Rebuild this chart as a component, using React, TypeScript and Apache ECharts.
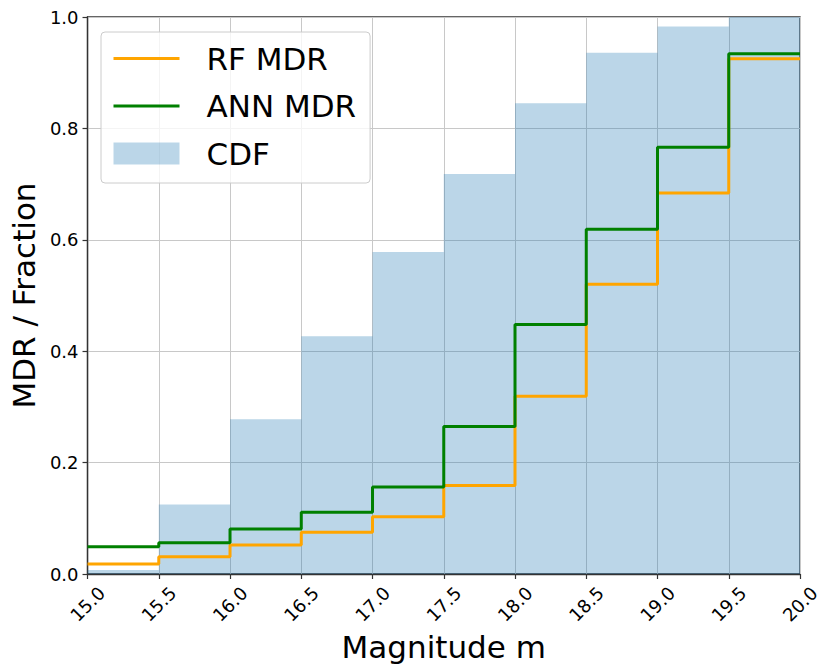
import React, { useEffect, useRef } from "react";
import * as echarts from "echarts";

const binEdges = [15.0, 15.5, 16.0, 16.5, 17.0, 17.5, 18.0, 18.5, 19.0, 19.5, 20.0];
const cdfValues = [0.007, 0.125, 0.278, 0.427, 0.578, 0.718, 0.845, 0.936, 0.983, 1.0];
const rfMdr = [0.018, 0.031, 0.052, 0.075, 0.103, 0.159, 0.319, 0.52, 0.684, 0.925];
const annMdr = [0.049, 0.056, 0.081, 0.111, 0.156, 0.265, 0.448, 0.619, 0.766, 0.934];
const yTicks = [0, 0.2, 0.4, 0.6, 0.8, 1.0];

const FONT = "DejaVu Sans";
const CDF_COLOR = "rgba(31,119,180,0.3)";

function stepData(vals: number[]) {
  return binEdges.map((e, i) => [e, vals[Math.min(i, vals.length - 1)]]);
}

export default function App() {
  const ref = useRef<HTMLDivElement>(null);
  useEffect(() => {
    if (!ref.current) return;
    const chart = echarts.init(ref.current, undefined, { renderer: "svg" });
    chart.setOption({
      animation: false,
      textStyle: { fontFamily: FONT },
      grid: {
        left: 84,
        right: 31,
        top: 17,
        bottom: 98,
        show: true,
        borderColor: "#333",
        borderWidth: 1.3,
        backgroundColor: "transparent",
      },
      legend: {
        orient: "vertical",
        left: 101,
        top: 32,
        padding: [11, 14, 14, 11],
        itemWidth: 66,
        itemHeight: 22,
        itemGap: 16.5,
        backgroundColor: "rgba(255,255,255,0.8)",
        borderColor: "#cccccc",
        borderWidth: 1,
        borderRadius: 4,
        textStyle: { fontFamily: FONT, fontSize: 31, color: "#000", padding: [0, 0, 0, 22] },
        lineStyle: { width: 3 },
        data: [
          { name: "RF MDR", itemStyle: { opacity: 0 } },
          { name: "ANN MDR", itemStyle: { opacity: 0 } },
          { name: "CDF", icon: "rect", itemStyle: { color: CDF_COLOR, opacity: 1 } },
        ],
      },
      xAxis: {
        type: "value",
        min: 15,
        max: 20,
        interval: 0.5,
        name: "Magnitude m",
        nameLocation: "middle",
        nameGap: 54,
        nameTextStyle: { fontFamily: FONT, fontSize: 31, color: "#000" },
        axisLine: { show: true, onZero: false, lineStyle: { color: "#333", width: 1.3 } },
        axisTick: { show: true, length: 5, lineStyle: { color: "#333", width: 1.2 } },
        axisLabel: {
          rotate: 45,
          align: "center",
          verticalAlign: "middle",
          margin: 30,
          fontFamily: FONT,
          fontSize: 18,
          color: "#000",
          formatter: (v: number) => v.toFixed(1),
        },
        splitLine: { show: true, lineStyle: { color: "#c8c8c8", width: 1 } },
      },
      yAxis: {
        type: "value",
        min: yTicks[0],
        max: yTicks[yTicks.length - 1],
        interval: 0.2,
        name: "MDR / Fraction",
        nameLocation: "middle",
        nameGap: 48,
        nameTextStyle: { fontFamily: FONT, fontSize: 31, color: "#000" },
        axisLine: { show: true, lineStyle: { color: "#333", width: 1.3 } },
        axisTick: { show: true, length: 5, lineStyle: { color: "#333", width: 1.2 } },
        axisLabel: {
          margin: 9,
          fontFamily: FONT,
          fontSize: 18,
          color: "#000",
          formatter: (v: number) => v.toFixed(1),
        },
        splitLine: { show: true, lineStyle: { color: "#c8c8c8", width: 1 } },
      },
      series: [
        {
          name: "CDF",
          type: "line",
          step: "end",
          symbol: "none",
          data: stepData(cdfValues),
          lineStyle: { width: 0, color: CDF_COLOR },
          itemStyle: { color: CDF_COLOR },
          areaStyle: { color: CDF_COLOR, opacity: 1 },
          z: 1,
        },
        {
          name: "RF MDR",
          type: "line",
          step: "end",
          symbol: "none",
          data: stepData(rfMdr),
          lineStyle: { width: 3, color: "#ffa500" },
          itemStyle: { color: "#ffa500" },
          z: 2,
        },
        {
          name: "ANN MDR",
          type: "line",
          step: "end",
          symbol: "none",
          data: stepData(annMdr),
          lineStyle: { width: 3, color: "#008000" },
          itemStyle: { color: "#008000" },
          z: 3,
        },
      ],
    });
    return () => chart.dispose();
  }, []);
  return (
    <div
      ref={ref}
      style={{ position: "absolute", left: 0, top: 0, width: 831, height: 672, background: "#fff" }}
    />
  );
}
